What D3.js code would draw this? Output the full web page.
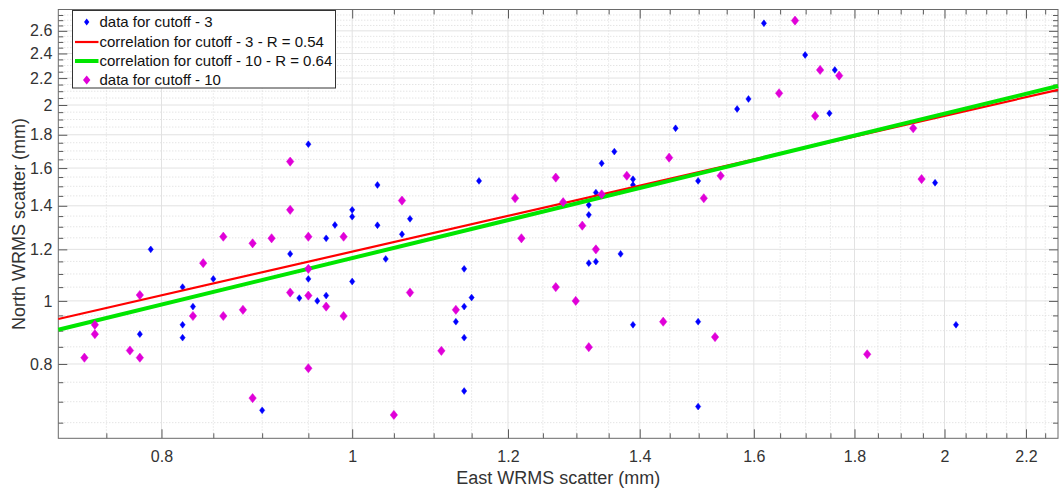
<!DOCTYPE html>
<html>
<head>
<meta charset="utf-8">
<script src="https://cdn.jsdelivr.net/npm/d3@7"></script>
<style>
  html, body { margin: 0; padding: 0; background: #fff; }
  svg { display: block; font-family: "Liberation Sans", Arial, Helvetica, sans-serif; }
</style>
</head>
<body>
<svg id="chart" width="1059" height="491"></svg>
<script>
// cutoff 3 (blue points)
const cutoff3East = [0.95, 1.00, 1.00, 0.98, 0.97, 0.79, 0.93, 0.85, 0.95, 1.00, 0.82, 0.94, 0.97, 0.96, 0.83,
  0.82, 0.78, 0.82, 0.90, 1.03, 1.03, 1.07, 1.06, 1.16, 1.319, 1.319, 1.33, 1.339, 1.359, 1.389, 1.389, 1.46,
  1.499, 1.04, 1.14, 1.14, 1.15, 1.129, 1.14, 1.14, 1.319, 1.33, 1.369, 1.389, 1.499, 1.499, 1.619, 1.699,
  1.759, 1.59, 1.569, 1.748, 1.978, 2.027];
const cutoff3North = [1.741, 1.38, 1.347, 1.308, 1.248, 1.20, 1.181, 1.081, 1.081, 1.071, 1.05, 1.01, 1.019, 1.00, 0.98,
  0.919, 0.889, 0.878, 0.679, 1.507, 1.307, 1.337, 1.266, 1.529, 1.404, 1.356, 1.467, 1.627, 1.696, 1.538, 1.507, 1.842,
  1.529, 1.16, 1.12, 0.98, 1.012, 0.929, 0.878, 0.727, 1.143, 1.149, 1.181, 0.919, 0.929, 0.688, 2.671, 2.387,
  2.264, 2.043, 1.972, 1.942, 1.519, 0.919];

// cutoff 10 (magenta diamonds)
const cutoff10East = [0.93, 0.93, 0.86, 0.89, 0.91, 0.95, 0.99, 0.84, 0.95, 0.93, 0.78, 0.95, 0.97, 0.88, 0.83,
  0.86, 0.99, 0.74, 0.74, 0.771, 0.731, 0.78, 0.95, 0.89, 1.06, 1.21, 1.219, 1.269, 1.28, 1.309, 1.339, 1.33,
  1.379, 1.449, 1.509, 1.07, 1.129, 1.11, 1.05, 1.269, 1.299, 1.439, 1.319, 1.679, 1.729, 1.768, 1.648, 1.719,
  1.928, 1.539, 1.947, 1.529, 1.827];
const cutoff10North = [1.637, 1.38, 1.255, 1.226, 1.248, 1.255, 1.255, 1.143, 1.12, 1.03, 1.021, 1.019, 0.98, 0.969, 0.948,
  0.948, 0.948, 0.919, 0.889, 0.839, 0.818, 0.818, 0.788, 0.709, 1.426, 1.438, 1.248, 1.547, 1.418, 1.305, 1.458, 1.20,
  1.557, 1.66, 1.438, 1.03, 0.969, 0.838, 0.668, 1.05, 1.00, 0.929, 0.849, 2.696, 2.264, 2.219, 2.085, 1.924,
  1.842, 1.557, 1.539, 0.88, 0.828];

// correlation lines (end points)
const fitEast = [0.709, 2.284];
const fit3North = [0.938, 2.110];
const fit10North = [0.903, 2.139];

const xTickLabels = [0.8, 1, 1.2, 1.4, 1.6, 1.8, 2, 2.2];
const yTickLabels = [0.8, 1, 1.2, 1.4, 1.6, 1.8, 2, 2.2, 2.4, 2.6];

const legendLabels = ["data for cutoff - 3", "correlation for cutoff - 3 - R = 0.54",
  "correlation for cutoff - 10 - R = 0.64", "data for cutoff - 10"];

const blue = "#0000ff", magenta = "#e000d8", red = "#ff0000", green = "#00e600";

const pL = 58.3, pR = 1058, pT = 9.5, pB = 438.3;
const svg = d3.select("#chart");

const x = d3.scaleLog().domain([0.709, 2.284]).range([pL, pR]);
const y = d3.scaleLog().domain([0.615, 2.804]).range([pB, pT]);

const near = (v, arr) => arr.some(a => Math.abs(a - v) < 1e-6);
const xMinor = d3.range(0.75, 2.26, 0.05).map(v => +v.toFixed(2)).filter(v => !near(v, xTickLabels));
const yMinor = d3.range(0.65, 2.76, 0.05).map(v => +v.toFixed(2)).filter(v => !near(v, yTickLabels));

// grid
const grid = svg.append("g");
grid.selectAll(".gxm").data(xMinor).enter().append("line")
  .attr("x1", d => x(d)).attr("x2", d => x(d)).attr("y1", pT).attr("y2", pB)
  .attr("stroke", "#d9d9d9").attr("stroke-dasharray", "1,2");
grid.selectAll(".gym").data(yMinor).enter().append("line")
  .attr("x1", pL).attr("x2", pR).attr("y1", d => y(d)).attr("y2", d => y(d))
  .attr("stroke", "#d9d9d9").attr("stroke-dasharray", "1,2");
grid.selectAll(".gx").data(xTickLabels).enter().append("line")
  .attr("x1", d => x(d)).attr("x2", d => x(d)).attr("y1", pT).attr("y2", pB)
  .attr("stroke", "#e2e2e2");
grid.selectAll(".gy").data(yTickLabels).enter().append("line")
  .attr("x1", pL).attr("x2", pR).attr("y1", d => y(d)).attr("y2", d => y(d))
  .attr("stroke", "#e2e2e2");

// axes (ticks pointing inward)
const fmt = d => String(d);
function styleAxis(g) {
  g.select(".domain").remove();
  g.selectAll(".tick line").attr("stroke", "#5a5a5a");
  g.selectAll("text").attr("fill", "#333").attr("font-size", 16)
    .attr("font-family", "'Liberation Sans', Arial, sans-serif");
}
svg.append("g").attr("transform", `translate(0,${pB})`)
  .call(d3.axisBottom(x).tickValues(xMinor).tickSize(-5).tickFormat("")).call(styleAxis);
svg.append("g").attr("transform", `translate(0,${pB})`)
  .call(d3.axisBottom(x).tickValues(xTickLabels).tickSize(-9).tickPadding(12).tickFormat(fmt)).call(styleAxis);
svg.append("g").attr("transform", `translate(0,${pT})`)
  .call(d3.axisTop(x).tickValues(xMinor).tickSize(-5).tickFormat("")).call(styleAxis);
svg.append("g").attr("transform", `translate(0,${pT})`)
  .call(d3.axisTop(x).tickValues(xTickLabels).tickSize(-9).tickFormat("")).call(styleAxis);
svg.append("g").attr("transform", `translate(${pL},0)`)
  .call(d3.axisLeft(y).tickValues(yMinor).tickSize(-5).tickFormat("")).call(styleAxis);
svg.append("g").attr("transform", `translate(${pL},0)`)
  .call(d3.axisLeft(y).tickValues(yTickLabels).tickSize(-9).tickPadding(6).tickFormat(fmt)).call(styleAxis);
svg.append("g").attr("transform", `translate(${pR},0)`)
  .call(d3.axisRight(y).tickValues(yMinor).tickSize(-5).tickFormat("")).call(styleAxis);
svg.append("g").attr("transform", `translate(${pR},0)`)
  .call(d3.axisRight(y).tickValues(yTickLabels).tickSize(-9).tickFormat("")).call(styleAxis);
svg.append("rect").attr("x", pL).attr("y", pT).attr("width", pR - pL).attr("height", pB - pT)
  .attr("fill", "none").attr("stroke", "#6a6a6a");

// axis titles
svg.append("text").attr("x", (pL + pR) / 2).attr("y", 484).attr("text-anchor", "middle")
  .attr("font-size", 18).attr("fill", "#333").text("East WRMS scatter (mm)");
svg.append("text").attr("transform", `translate(25,${(pT + pB) / 2}) rotate(-90)`)
  .attr("text-anchor", "middle").attr("font-size", 18).attr("fill", "#333").text("North WRMS scatter (mm)");

const diamond = (w, h) => `M0,${-h}L${w},0L0,${h}L${-w},0Z`;
const plot = svg.append("g");

// cutoff 3 points
plot.selectAll(".p3").data(cutoff3East.map((e, i) => [e, cutoff3North[i]])).enter().append("path")
  .attr("d", diamond(2.6, 3.4)).attr("fill", blue).attr("stroke", blue).attr("stroke-width", 0.5)
  .attr("transform", d => `translate(${x(d[0])},${y(d[1])})`);

// correlation lines
const line = d3.line().x(d => x(d[0])).y(d => y(d[1]));
plot.append("path").datum(fitEast.map((e, i) => [e, fit3North[i]])).attr("d", line)
  .attr("fill", "none").attr("stroke", red).attr("stroke-width", 2.2);
plot.append("path").datum(fitEast.map((e, i) => [e, fit10North[i]])).attr("d", line)
  .attr("fill", "none").attr("stroke", green).attr("stroke-width", 4);

// cutoff 10 points
plot.selectAll(".p10").data(cutoff10East.map((e, i) => [e, cutoff10North[i]])).enter().append("path")
  .attr("d", diamond(3.7, 4.6)).attr("fill", magenta).attr("stroke", magenta).attr("stroke-width", 0.5)
  .attr("transform", d => `translate(${x(d[0])},${y(d[1])})`);

// legend
const lg = svg.append("g");
lg.append("rect").attr("x", 72.5).attr("y", 10.5).attr("width", 263).attr("height", 77.5)
  .attr("fill", "#fff").attr("stroke", "#333");
const rowY = [22, 42, 61, 80];
lg.append("path").attr("d", diamond(2.6, 3.4)).attr("fill", blue).attr("transform", `translate(86.7,${rowY[0]})`);
lg.append("line").attr("x1", 75).attr("x2", 98.5).attr("y1", rowY[1]).attr("y2", rowY[1]).attr("stroke", red).attr("stroke-width", 2.2);
lg.append("line").attr("x1", 75).attr("x2", 98.5).attr("y1", rowY[2]).attr("y2", rowY[2]).attr("stroke", green).attr("stroke-width", 4);
lg.append("path").attr("d", diamond(3.7, 4.6)).attr("fill", magenta).attr("transform", `translate(86.7,${rowY[3]})`);
lg.selectAll(".lt").data(legendLabels).enter().append("text")
  .attr("x", 99.5).attr("y", (d, i) => rowY[i]).attr("dy", "0.35em")
  .attr("font-size", 15).attr("fill", "#111").text(d => d);
</script>
</body>
</html>
